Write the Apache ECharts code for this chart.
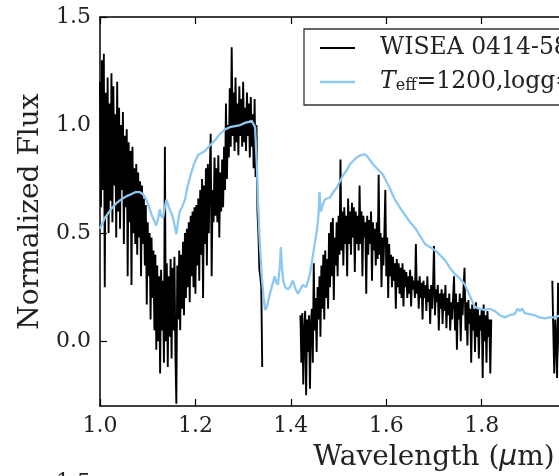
<!DOCTYPE html>
<html>
<head>
<meta charset="utf-8">
<script src="https://cdn.jsdelivr.net/npm/echarts@6/dist/echarts.min.js"></script>
<style>
html,body{margin:0;padding:0;background:#fff;}
#c{width:559px;height:476px;}
</style>
</head>
<body>
<div id="c"></div>
<script>
// ---- data ----
const xTicks = [1.0, 1.2, 1.4, 1.6, 1.8, 2.0, 2.2, 2.4];
const yTicks = [0.0, 0.5, 1.0, 1.5];
const seriesNames = ["WISEA 0414-5854", "Teff=1200,logg=5.0"];

// observed spectrum: wavelength grid segments (start, step) and flux
const obsStep = 0.002;
const obsStartA = 1.000;
const obsFluxA = [
  1.20,0.62,1.30,0.70,1.33,0.25,1.15,0.58,1.22,0.50,
  1.10,0.65,1.24,0.55,1.18,0.72,1.05,0.48,1.20,0.60,
  1.08,0.52,1.00,0.70,1.06,0.45,0.95,0.62,0.98,0.30,
  0.92,0.55,0.88,0.26,0.90,0.50,0.80,0.45,0.82,0.40,
  0.78,0.48,0.74,0.30,0.72,0.45,0.66,0.35,0.63,0.17,
  0.55,0.30,0.50,0.10,0.48,0.20,0.42,0.05,0.40,-0.04,
  0.35,0.00,0.30,-0.15,0.33,0.05,0.28,-0.10,0.90,0.00,
  0.36,-0.12,0.30,0.02,0.38,-0.08,0.34,0.05,0.39,-0.05,
  -0.29,0.35,0.10,0.42,0.05,0.40,0.15,0.46,0.12,0.50,
  0.20,0.52,0.25,0.55,0.18,0.58,0.30,0.60,0.25,0.62,
  0.22,0.63,0.35,0.66,0.28,0.70,0.40,0.75,0.20,0.72,
  0.45,0.80,0.35,0.82,0.50,0.78,0.96,0.30,0.70,0.55,
  0.85,0.58,0.80,0.55,0.86,0.48,0.78,0.60,0.84,0.62,
  0.90,0.70,1.10,0.75,1.00,0.85,1.17,0.90,1.36,0.95,
  1.15,0.88,1.22,0.92,1.10,0.86,1.18,0.95,1.12,0.90,
  1.20,0.92,1.08,0.88,1.15,0.95,1.10,0.85,1.13,0.90,
  1.05,0.80,1.12,0.76,1.00,0.60,0.50,0.33,0.30,0.25,
  -0.12];
const obsStartB = 1.420;
const obsFluxB = [
  0.12,-0.10,0.13,-0.20,0.05,0.14,-0.25,0.10,-0.05,0.12,
  -0.22,0.08,0.15,-0.10,0.36,0.05,0.20,-0.05,0.25,0.10,
  0.30,0.02,0.35,0.15,0.40,0.10,0.42,0.20,0.38,0.15,
  0.50,0.25,0.55,0.30,0.57,0.19,0.48,0.35,0.55,0.30,
  0.58,0.40,0.84,0.42,0.60,0.35,0.62,0.45,0.58,0.30,
  0.66,0.45,0.60,0.40,0.64,0.48,0.62,0.32,0.60,0.45,
  0.58,0.42,0.72,0.45,0.60,0.30,0.58,0.48,0.55,0.22,
  0.58,0.40,0.56,0.45,0.60,0.28,0.55,0.42,0.52,0.35,
  0.55,0.38,0.77,0.40,0.50,0.25,0.48,0.35,0.50,0.70,
  0.30,0.48,0.20,0.45,0.30,0.40,0.25,0.39,0.28,0.36,
  0.15,0.38,0.25,0.36,0.22,0.34,0.20,0.36,0.16,0.33,
  0.25,0.32,0.20,0.30,0.22,0.33,0.16,0.30,0.24,0.28,
  0.20,0.45,0.22,0.28,0.15,0.30,0.20,0.27,0.10,0.28,
  0.20,0.26,0.14,0.30,0.18,0.24,0.08,0.26,0.15,0.25,
  0.44,0.12,0.24,0.18,0.26,0.05,0.22,0.15,0.24,0.08,
  0.22,0.14,0.26,0.06,0.20,0.12,0.22,0.05,0.18,0.10,
  0.20,0.30,0.05,0.22,-0.04,0.18,0.10,0.22,0.00,0.20,
  0.12,0.25,0.34,0.05,0.18,-0.02,0.19,0.08,0.15,-0.10,
  0.17,0.05,0.15,-0.05,0.18,0.02,0.15,-0.08,0.12,0.05,
  0.15,-0.17,0.17,0.00,0.12,-0.10,0.14,0.02,0.10,-0.15,
  0.10];
const obsStartC = 1.948;
const obsFluxC = [0.28,0.05,-0.15,0.10,0.00,-0.17,0.27,0.05,-0.10,0.10,0.05];

// model spectrum
const modelWave = [1.000,1.010,1.023,1.035,1.044,1.055,1.065,1.075,1.083,1.090,1.097,1.103,1.108,1.113,1.118,1.122,1.125,1.128,1.132,1.136,
  1.139,1.143,1.146,1.150,1.153,1.157,1.160,1.164,1.167,1.172,1.178,1.184,1.190,1.197,1.205,1.212,1.220,1.230,1.241,1.250,
  1.262,1.272,1.283,1.294,1.304,1.312,1.318,1.321,1.325,1.329,1.332,1.335,1.339,1.343,1.346,1.350,1.353,1.356,1.360,1.366,
  1.370,1.373,1.377,1.379,1.381,1.384,1.388,1.394,1.398,1.404,1.410,1.415,1.420,1.425,1.432,1.440,1.445,1.450,1.455,1.458,
  1.460,1.463,1.467,1.471,1.476,1.482,1.489,1.496,1.503,1.510,1.517,1.524,1.531,1.538,1.546,1.555,1.560,1.565,1.572,1.580,
  1.587,1.593,1.600,1.607,1.618,1.628,1.639,1.650,1.660,1.670,1.681,1.692,1.702,1.712,1.723,1.733,1.744,1.754,1.764,1.775,
  1.785,1.795,1.806,1.816,1.827,1.838,1.848,1.858,1.869,1.875,1.880,1.885,1.890,1.900,1.911,1.921,1.932,1.942,1.953,1.965];
const modelFlux = [0.52,0.57,0.61,0.64,0.655,0.67,0.68,0.69,0.69,0.68,0.655,0.62,0.585,0.56,0.535,0.57,0.61,0.58,0.57,0.62,
  0.655,0.63,0.61,0.59,0.57,0.53,0.495,0.56,0.60,0.62,0.655,0.72,0.77,0.82,0.86,0.87,0.88,0.905,0.93,0.955,
  0.98,0.99,0.995,1.00,1.01,1.015,1.02,1.025,0.99,0.80,0.60,0.45,0.30,0.20,0.145,0.16,0.19,0.22,0.25,0.30,
  0.27,0.26,0.35,0.435,0.35,0.28,0.25,0.24,0.25,0.28,0.24,0.22,0.24,0.26,0.25,0.31,0.38,0.45,0.52,0.585,
  0.69,0.60,0.63,0.655,0.66,0.665,0.69,0.71,0.74,0.77,0.79,0.82,0.835,0.85,0.86,0.865,0.855,0.84,0.82,0.80,
  0.785,0.77,0.74,0.71,0.655,0.62,0.585,0.55,0.525,0.49,0.45,0.435,0.42,0.40,0.375,0.34,0.31,0.29,0.265,0.21,
  0.16,0.15,0.145,0.15,0.14,0.12,0.11,0.12,0.125,0.15,0.14,0.15,0.13,0.125,0.12,0.11,0.105,0.11,0.11,0.12];

// ---- build ----
function seg(start, flux){ return flux.map((v,i)=>[+(start+i*obsStep).toFixed(4), v]); }
const obsData = [].concat(seg(obsStartA, obsFluxA), [[1.38,'-']], seg(obsStartB, obsFluxB), [[1.88,'-']], seg(obsStartC, obsFluxC));
const modelData = modelWave.map((w,i)=>[w, modelFlux[i]]);

const FONT = 'DejaVu Serif';
const chart = echarts.init(document.getElementById('c'), null, {renderer:'canvas'});
const axisLineStyle = {color:'#000', width:1.5};
chart.setOption({
  animation:false,
  backgroundColor:'#fff',
  grid:{left:100, top:17, width:668, height:389, containLabel:false, outerBoundsMode:'none'},
  xAxis:[{
    type:'value', min:1.0, max:2.4, interval:0.2, position:'bottom',
    axisLine:{show:true, onZero:false, lineStyle:axisLineStyle},
    axisTick:{show:true, inside:true, length:7, lineStyle:{color:'#000', width:1.2}},
    axisLabel:{fontFamily:FONT, fontSize:22, color:'#222', margin:9, formatter:v=>v.toFixed(1)},
    splitLine:{show:false},
    name:'Wavelength ({i|μ}m)', nameLocation:'middle', nameGap:38,
    nameTextStyle:{fontFamily:FONT, fontSize:28, color:'#222', rich:{i:{fontFamily:'DejaVu Sans', fontStyle:'italic', fontSize:28, color:'#222'}}}
  },{
    type:'value', min:1.0, max:2.4, interval:0.2, position:'top',
    axisLine:{show:true, onZero:false, lineStyle:axisLineStyle},
    axisTick:{show:true, inside:true, length:7, lineStyle:{color:'#000', width:1.2}},
    axisLabel:{show:false}, splitLine:{show:false}
  }],
  yAxis:[{
    type:'value', min:-0.3, max:1.5, position:'left',
    axisLine:{show:true, onZero:false, lineStyle:axisLineStyle},
    axisTick:{show:true, inside:true, length:7, customValues:yTicks, lineStyle:{color:'#000', width:1.2}},
    axisLabel:{fontFamily:FONT, fontSize:22, color:'#222', margin:9, customValues:yTicks, formatter:v=>v.toFixed(1)},
    splitLine:{show:false},
    name:'Normalized Flux', nameLocation:'middle', nameGap:50,
    nameTextStyle:{fontFamily:FONT, fontSize:28, color:'#222'}
  }],
  series:[{
    name:seriesNames[0], type:'line', data:obsData, xAxisIndex:0, yAxisIndex:0,
    showSymbol:false, symbol:'none', connectNulls:false, clip:true,
    lineStyle:{color:'#000', width:1.9}, z:2
  },{
    name:seriesNames[1], type:'line', data:modelData, xAxisIndex:0, yAxisIndex:0,
    showSymbol:false, symbol:'none', clip:true,
    lineStyle:{color:'#8cc8f2', width:2.3}, z:3
  }],
  graphic:[
    {type:'rect', shape:{x:304, y:29, width:400, height:76}, style:{fill:'#fff', stroke:'#333', lineWidth:1.3}, z:10},
    {type:'line', shape:{x1:320, y1:48, x2:355, y2:48}, style:{stroke:'#000', lineWidth:2}, z:11},
    {type:'line', shape:{x1:320, y1:82, x2:355, y2:82}, style:{stroke:'#8cc8f2', lineWidth:2.5}, z:11},
    {type:'text', x:380, y:48, style:{text:seriesNames[0], fontFamily:FONT, fontSize:23.5, fill:'#222', verticalAlign:'middle'}, z:11},
    {type:'text', x:380, y:82, style:{
      text:'{t|T}{s|eff}=1200,logg=5.0', fontFamily:FONT, fontSize:23.5, fill:'#222', verticalAlign:'middle',
      rich:{t:{fontFamily:FONT, fontStyle:'italic', fontSize:23.5, fill:'#222'},
            s:{fontFamily:FONT, fontSize:16, fill:'#222', verticalAlign:'bottom', padding:[8,0,0,0]}}
    }, z:11},
    {type:'text', x:91, y:472, style:{text:'1.5', fontFamily:FONT, fontSize:22, fill:'#222', align:'right', verticalAlign:'top'}, z:11}
  ]
});
</script>
</body>
</html>
